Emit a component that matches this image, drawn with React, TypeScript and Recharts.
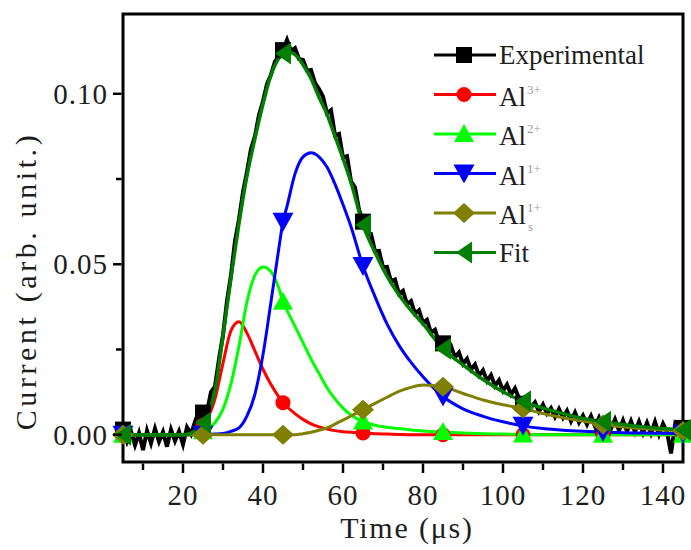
import React from 'react';
import { LineChart, Line, XAxis, YAxis, ReferenceArea } from 'recharts';

// ---- data ----
const EXP_START = 5;
const expValues = [
  0.0015, -0.002, 0.001, -0.003, 0.0005, -0.0045, 0.0012, -0.0025, 0.0018, -0.002,
  0.0008, -0.0035, 0.0015, -0.0018, 0.001, -0.0028, 0.0022, 0.0002, 0.0038, 0.0015,
  0.0065, 0.0068, 0.0125, 0.0142, 0.0222, 0.0292, 0.0392, 0.0468, 0.0568, 0.0632,
  0.0712, 0.0772, 0.0838, 0.0876, 0.0938, 0.0978, 0.1028, 0.1056, 0.1095, 0.1108,
  0.1128, 0.1158, 0.1126, 0.1134, 0.1102, 0.1099, 0.1068, 0.107, 0.1032, 0.1014,
  0.0992, 0.0943, 0.0952, 0.0878, 0.0882, 0.0813, 0.0817, 0.0743, 0.0725, 0.066,
  0.0625, 0.0591, 0.0589, 0.0538, 0.0539, 0.0491, 0.0492, 0.045, 0.0455, 0.0413,
  0.0422, 0.0383, 0.0392, 0.0355, 0.0365, 0.0328, 0.0337, 0.0299, 0.0308, 0.027,
  0.0268, 0.0246, 0.026, 0.0227, 0.0241, 0.0208, 0.0223, 0.0191, 0.0206, 0.0174,
  0.0189, 0.0158, 0.0175, 0.0143, 0.016, 0.0129, 0.0147, 0.0118, 0.0136, 0.0107,
  0.0091, 0.0106, 0.008, 0.0095, 0.0068, 0.0088, 0.0062, 0.0078, 0.0052, 0.0075,
  0.005, 0.007, 0.004, 0.0065, 0.0036, 0.0056, 0.003, 0.0055, 0.0025, 0.005,
  0.0022, 0.0048, 0.0018, 0.0045, 0.0012, 0.0042, 0.001, 0.004, 0.0008, 0.0038,
  0.0005, 0.0035, 0.0004, 0.0038, 0.0001, 0.0032, 0.0008, -0.0055, 0.0028, 0.0005,
  0.002,
];
const expTimes = expValues.map((_, i) => EXP_START + i);

const compTimes = [
  5, 10, 15, 20, 22, 24, 25, 26, 28, 30, 32, 34, 36, 38, 40, 42, 44, 45, 46, 48,
  50, 52, 54, 56, 58, 60, 62, 65, 68, 71, 74, 77, 80, 85, 90, 95, 100, 105, 110, 115,
  120, 125, 130, 135, 140, 145,
];
const al3 = [
  0, 0, 0, 0, 0.0003, 0.0015, 0.0028, 0.0045, 0.0105, 0.021, 0.0305, 0.0331, 0.0298, 0.0245, 0.0192, 0.0147, 0.011, 0.0094, 0.0082, 0.0062,
  0.0045, 0.0032, 0.0023, 0.0017, 0.0012, 0.0009, 0.0007, 0.0005, 0.0003, 0.0002, 0.0001, 0, 0, 0, 0, 0, 0, 0, 0, 0,
  0, 0, 0, 0, 0, 0,
];
const al2 = [
  0, 0, 0, 0, 0, 0.0005, 0.001, 0.0015, 0.0035, 0.0075, 0.015, 0.026, 0.039, 0.0468, 0.0492, 0.0478, 0.0428, 0.039, 0.0365, 0.0318,
  0.027, 0.0222, 0.018, 0.0138, 0.0105, 0.0078, 0.0058, 0.0039, 0.0028, 0.0022, 0.0018, 0.0014, 0.0011, 0.0008, 0.0005, 0.0003, 0.0002, 0.0001, 0, 0,
  0, 0, 0, 0, 0, 0,
];
const al1 = [
  0, 0, 0, 0, 0, 0, 0, 0.0001, 0.0002, 0.0004, 0.001, 0.002, 0.0055, 0.012, 0.0235, 0.039, 0.055, 0.0625, 0.067, 0.0765,
  0.0815, 0.0827, 0.0815, 0.0785, 0.0735, 0.0675, 0.061, 0.0495, 0.0405, 0.0325, 0.0262, 0.0212, 0.017, 0.0112, 0.0076, 0.0054, 0.0038, 0.0026, 0.0018, 0.0013,
  0.001, 0.0008, 0.0006, 0.0005, 0.0004, 0.0003,
];
const al1s = [
  0, 0, 0, 0, 0, 0, 0, 0, 0, 0, 0, 0, 0, 0, 0, 0, 0, 0, 0, 0,
  0.0003, 0.0007, 0.0013, 0.002, 0.0031, 0.0043, 0.0055, 0.0073, 0.0092, 0.011, 0.0127, 0.0139, 0.0146, 0.0141, 0.0121, 0.0102, 0.0088, 0.0077, 0.0062, 0.005,
  0.004, 0.003, 0.0023, 0.0018, 0.0014, 0.0011,
];
const fit = [
  0, 0, 0, 0, 0.0005, 0.002, 0.0035, 0.0055, 0.013, 0.029, 0.046, 0.062, 0.076, 0.087, 0.097, 0.1055, 0.1105, 0.1118, 0.1123, 0.1115,
  0.1085, 0.1045, 0.099, 0.094, 0.0875, 0.081, 0.074, 0.0615, 0.0535, 0.0465, 0.041, 0.0365, 0.0325, 0.0252, 0.0205, 0.0162, 0.0126, 0.0098, 0.0078, 0.0062,
  0.0048, 0.0038, 0.003, 0.0023, 0.0018, 0.0014,
];

const markerTimes = [5, 25, 45, 65, 85, 105, 125, 145];
const xTicks = [10, 20, 30, 40, 50, 60, 70, 80, 90, 100, 110, 120, 130, 140];
const xMajor = [20, 40, 60, 80, 100, 120, 140];
const yTicks = [0, 0.025, 0.05, 0.075, 0.1];
const yMajor = [0, 0.05, 0.1];
const xDomain = [5, 145];
const yDomain = [-0.008, 0.1234];

type Shape = 'square' | 'circle' | 'up' | 'down' | 'diamond' | 'left';
const series: { key: string; name: string; sup: string; sub: string; color: string; shape: Shape; width: number; type: 'linear' | 'monotone' }[] = [
  { key: 'exp', name: 'Experimental', sup: '', sub: '', color: '#000000', shape: 'square', width: 4, type: 'linear' },
  { key: 'al3', name: 'Al', sup: '3+', sub: '', color: '#FF0000', shape: 'circle', width: 3, type: 'monotone' },
  { key: 'al2', name: 'Al', sup: '2+', sub: '', color: '#00FF00', shape: 'up', width: 3, type: 'monotone' },
  { key: 'al1', name: 'Al', sup: '1+', sub: '', color: '#0000FF', shape: 'down', width: 3, type: 'monotone' },
  { key: 'al1s', name: 'Al', sup: '1+', sub: 's', color: '#808000', shape: 'diamond', width: 3, type: 'monotone' },
  { key: 'fit', name: 'Fit', sup: '', sub: '', color: '#007F00', shape: 'left', width: 3.5, type: 'monotone' },
];

const rows = expTimes.map((t, i) => {
  const r: any = { t, exp: expValues[i] };
  const j = compTimes.indexOf(t);
  if (j >= 0) {
    r.al3 = al3[j];
    r.al2 = al2[j];
    r.al1 = al1[j];
    r.al1s = al1s[j];
    r.fit = fit[j];
  }
  return r;
});

const FONT = '"Liberation Serif", "Times New Roman", serif';
const TEXT = '#1e1e1e';

function marker(shape: Shape, x: number, y: number, color: string) {
  switch (shape) {
    case 'square':
      return <rect x={x - 8} y={y - 8} width={16} height={16} fill={color} />;
    case 'circle':
      return <circle cx={x} cy={y} r={7.5} fill={color} />;
    case 'up':
      return <polygon points={`${x},${y - 10} ${x - 10},${y + 8} ${x + 10},${y + 8}`} fill={color} />;
    case 'down':
      return <polygon points={`${x - 10.5},${y - 9} ${x + 10.5},${y - 9} ${x},${y + 10}`} fill={color} />;
    case 'diamond':
      return <polygon points={`${x},${y - 10} ${x + 11},${y} ${x},${y + 10} ${x - 11},${y}`} fill={color} />;
    case 'left':
      return <polygon points={`${x - 8},${y} ${x + 8},${y - 11} ${x + 8},${y + 11}`} fill={color} />;
  }
  return null;
}

const makeDot = (shape: Shape, color: string) => (p: any) => {
  const { cx, cy, payload, index } = p;
  if (!Number.isFinite(cx) || !Number.isFinite(cy) || !payload || !markerTimes.includes(payload.t) || payload[p.dataKey] == null) {
    return <g key={`e${index}`} />;
  }
  return <g key={`d${index}`}>{marker(shape, cx, cy, color)}</g>;
};

const XTick = (props: any) => {
  const { x, y, payload } = props;
  const v = payload.value;
  const major = xMajor.includes(v);
  return (
    <g>
      <line x1={x} y1={y + 1.5} x2={x} y2={y + (major ? 11 : 8)} stroke="#000" strokeWidth={2.5} />
      {major && (
        <text x={x} y={y + 43} textAnchor="middle" fontFamily={FONT} fontSize={29} letterSpacing={1} fill={TEXT}>
          {v}
        </text>
      )}
    </g>
  );
};

const YTick = (props: any) => {
  const { x, y, payload } = props;
  const v = payload.value;
  const major = yMajor.some((m) => Math.abs(m - v) < 1e-9);
  return (
    <g>
      <line x1={x - 1.5} y1={y} x2={x - (major ? 10 : 7)} y2={y} stroke="#000" strokeWidth={2.5} />
      {major && (
        <text x={x - 15} y={y + 10} textAnchor="end" fontFamily={FONT} fontSize={29} letterSpacing={1} fill={TEXT}>
          {v.toFixed(2)}
        </text>
      )}
    </g>
  );
};

export default function App() {
  const legendTop = 55;
  const legendStep = 39.5;
  return (
    <div style={{ position: 'absolute', left: 0, top: 0, width: 691, height: 550, background: '#fff' }}>
      <LineChart width={691} height={550} data={rows} margin={{ top: 14, right: 8, left: 0, bottom: 0 }}>
        <XAxis
          dataKey="t"
          type="number"
          domain={xDomain}
          ticks={xTicks}
          interval={0}
          height={88}
          axisLine={false}
          tickLine={false}
          tickSize={0}
          tickMargin={0}
          tick={<XTick />}
        />
        <YAxis
          type="number"
          domain={yDomain}
          ticks={yTicks}
          interval={0}
          width={123}
          axisLine={false}
          tickLine={false}
          tickSize={0}
          tickMargin={0}
          tick={<YTick />}
        />
        {series.map((s) => (
          <Line
            key={s.key}
            dataKey={s.key}
            type={s.type}
            stroke={s.color}
            strokeWidth={s.width}
            connectNulls
            dot={makeDot(s.shape, s.color)}
            activeDot={false}
            isAnimationActive={false}
          />
        ))}
        <ReferenceArea
          x1={xDomain[0]}
          x2={xDomain[1]}
          y1={yDomain[0]}
          y2={yDomain[1]}
          fill="none"
          fillOpacity={0}
          stroke="#000"
          strokeWidth={3}
          ifOverflow="visible"
        />
      </LineChart>
      <svg width={691} height={550} style={{ position: 'absolute', left: 0, top: 0, pointerEvents: 'none' }}>
        <text x={407} y={538} textAnchor="middle" fontFamily={FONT} fontSize={30} letterSpacing={1.8} fill={TEXT}>
          Time (μs)
        </text>
        <text
          transform="translate(36,281) rotate(-90)"
          textAnchor="middle"
          fontFamily={FONT}
          fontSize={30}
          letterSpacing={3.6}
          fill={TEXT}
        >
          Current (arb. unit.)
        </text>
        {series.map((s, i) => {
          const cy = legendTop + i * legendStep;
          const base = cy + (s.sup ? 11 : 9);
          return (
            <g key={s.key}>
              <line x1={434} y1={cy} x2={496} y2={cy} stroke={s.color} strokeWidth={3} />
              {marker(s.shape, 464, cy, s.color)}
              <text x={499} y={base} fontFamily={FONT} fontSize={27} fill={TEXT}>
                {s.name}
              </text>
              {s.sup && (
                <text x={527} y={base - 12} fontFamily={FONT} fontSize={13} fill="#9a9a9a">
                  {s.sup}
                </text>
              )}
              {s.sub && (
                <text x={528} y={base + 7} fontFamily={FONT} fontSize={13} fill="#9a9a9a">
                  {s.sub}
                </text>
              )}
            </g>
          );
        })}
      </svg>
    </div>
  );
}
